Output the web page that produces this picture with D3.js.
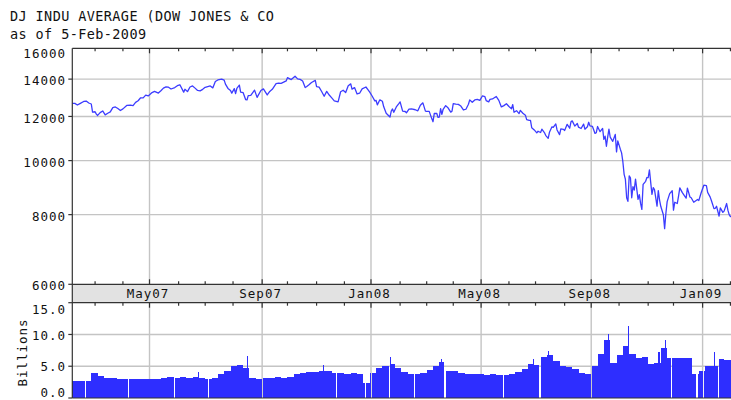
<!DOCTYPE html>
<html>
<head>
<meta charset="utf-8" />
<title>DJ Indu Average</title>
<style>
  body { margin: 0; background: #fff; }
  #chart { width: 731px; height: 400px; overflow: hidden; }
  text { font-family: "DejaVu Sans Mono", monospace; fill: #111; }
</style>
</head>
<body>
<div id="chart"></div>
<script src="https://cdnjs.cloudflare.com/ajax/libs/d3/7.8.5/d3.min.js"></script>
<script>
var title = "DJ INDU AVERAGE (DOW JONES & CO";
var subtitle = "as of 5-Feb-2009";
var startDate = "2007-02-05";
var endDate = "2009-02-05";

// daily closes (not every day)
var closes = [
  ["2007-02-05",12661],["2007-02-07",12666],["2007-02-09",12580],["2007-02-13",12654],["2007-02-16",12767],
  ["2007-02-20",12786],["2007-02-22",12686],["2007-02-26",12633],["2007-02-27",12216],["2007-03-01",12235],
  ["2007-03-02",12114],["2007-03-05",12050],["2007-03-07",12193],["2007-03-09",12276],["2007-03-13",12076],
  ["2007-03-15",12159],["2007-03-19",12226],["2007-03-21",12447],["2007-03-23",12481],["2007-03-27",12397],
  ["2007-03-29",12300],["2007-04-02",12382],["2007-04-05",12560],["2007-04-10",12573],["2007-04-12",12553],
  ["2007-04-16",12720],["2007-04-18",12803],["2007-04-20",12961],["2007-04-24",12953],["2007-04-26",13105],
  ["2007-04-30",13063],["2007-05-03",13241],["2007-05-07",13312],["2007-05-10",13215],["2007-05-14",13346],
  ["2007-05-16",13488],["2007-05-18",13556],["2007-05-22",13539],["2007-05-24",13441],["2007-05-29",13521],
  ["2007-05-31",13627],["2007-06-04",13676],["2007-06-07",13266],["2007-06-08",13424],["2007-06-12",13295],
  ["2007-06-14",13553],["2007-06-18",13612],["2007-06-20",13489],["2007-06-22",13360],["2007-06-26",13337],
  ["2007-06-28",13422],["2007-07-02",13535],["2007-07-06",13611],["2007-07-10",13502],["2007-07-12",13861],
  ["2007-07-16",13950],["2007-07-19",14000],["2007-07-23",13943],["2007-07-24",13716],["2007-07-26",13473],
  ["2007-07-30",13358],["2007-07-31",13212],["2007-08-02",13463],["2007-08-03",13182],["2007-08-06",13469],
  ["2007-08-08",13658],["2007-08-09",13270],["2007-08-13",13236],["2007-08-15",12861],["2007-08-16",12846],
  ["2007-08-17",13079],["2007-08-21",13091],["2007-08-24",13379],["2007-08-28",12983],["2007-08-31",13358],
  ["2007-09-04",13448],["2007-09-07",13114],["2007-09-11",13308],["2007-09-13",13424],["2007-09-18",13739],
  ["2007-09-20",13767],["2007-09-24",13759],["2007-09-28",13896],["2007-10-01",14087],["2007-10-04",13974],
  ["2007-10-09",14165],["2007-10-11",14015],["2007-10-15",13985],["2007-10-17",13892],["2007-10-19",13522],
  ["2007-10-22",13567],["2007-10-24",13676],["2007-10-26",13806],["2007-10-31",13930],["2007-11-01",13567],
  ["2007-11-05",13543],["2007-11-07",13300],["2007-11-09",13043],["2007-11-13",13307],["2007-11-15",13111],
  ["2007-11-19",12958],["2007-11-21",12800],["2007-11-26",12743],["2007-11-28",13289],["2007-11-30",13372],
  ["2007-12-04",13249],["2007-12-06",13620],["2007-12-10",13727],["2007-12-11",13433],["2007-12-13",13518],
  ["2007-12-17",13167],["2007-12-19",13207],["2007-12-21",13451],["2007-12-26",13551],["2007-12-28",13366],
  ["2007-12-31",13265],
  ["2008-01-02",13044],["2008-01-04",12800],["2008-01-07",12827],["2008-01-08",12589],["2008-01-10",12853],
  ["2008-01-14",12778],["2008-01-15",12501],["2008-01-17",12159],["2008-01-18",12099],["2008-01-22",11971],
  ["2008-01-23",12270],["2008-01-24",12378],["2008-01-25",12207],["2008-01-29",12480],["2008-01-31",12650],
  ["2008-02-01",12743],["2008-02-05",12265],["2008-02-07",12247],["2008-02-08",12182],["2008-02-12",12373],
  ["2008-02-14",12376],["2008-02-19",12337],["2008-02-21",12284],["2008-02-25",12570],["2008-02-27",12694],
  ["2008-02-29",12266],["2008-03-03",12258],["2008-03-05",12254],["2008-03-07",11894],["2008-03-10",11740],
  ["2008-03-11",12157],["2008-03-13",12146],["2008-03-14",11951],["2008-03-17",11972],["2008-03-18",12392],
  ["2008-03-19",12099],["2008-03-20",12361],["2008-03-24",12548],["2008-03-26",12422],["2008-03-28",12216],
  ["2008-03-31",12263],["2008-04-01",12654],["2008-04-03",12626],["2008-04-07",12612],["2008-04-09",12527],
  ["2008-04-11",12325],["2008-04-15",12362],["2008-04-17",12620],["2008-04-18",12849],["2008-04-22",12720],
  ["2008-04-24",12848],["2008-04-28",12871],["2008-04-30",12820],["2008-05-02",13058],["2008-05-06",13020],
  ["2008-05-07",12814],["2008-05-09",12745],["2008-05-12",12876],["2008-05-14",12898],["2008-05-16",12986],
  ["2008-05-19",13028],["2008-05-21",12824],["2008-05-23",12480],["2008-05-27",12548],["2008-05-29",12647],
  ["2008-06-02",12503],["2008-06-04",12390],["2008-06-05",12604],["2008-06-06",12209],["2008-06-10",12289],
  ["2008-06-12",12141],["2008-06-13",12308],["2008-06-17",12160],["2008-06-19",12063],["2008-06-20",11843],
  ["2008-06-24",11807],["2008-06-25",11811],["2008-06-26",11453],["2008-06-30",11350],["2008-07-02",11215],
  ["2008-07-03",11288],["2008-07-07",11231],["2008-07-08",11384],["2008-07-10",11229],["2008-07-11",11100],
  ["2008-07-15",10963],["2008-07-16",11239],["2008-07-18",11496],["2008-07-21",11467],["2008-07-23",11632],
  ["2008-07-24",11349],["2008-07-28",11131],["2008-07-29",11397],["2008-07-31",11378],["2008-08-01",11326],
  ["2008-08-05",11616],["2008-08-07",11431],["2008-08-08",11734],["2008-08-11",11783],["2008-08-13",11532],
  ["2008-08-15",11659],["2008-08-18",11479],["2008-08-20",11417],["2008-08-22",11628],["2008-08-25",11386],
  ["2008-08-27",11502],["2008-08-28",11715],["2008-08-29",11543],["2008-09-02",11516],["2008-09-04",11188],
  ["2008-09-05",11220],["2008-09-08",11511],["2008-09-10",11268],["2008-09-12",11421],["2008-09-15",10917],
  ["2008-09-16",11059],["2008-09-17",10609],["2008-09-18",11020],["2008-09-19",11388],["2008-09-22",11016],
  ["2008-09-24",10825],["2008-09-26",11143],["2008-09-29",10365],["2008-09-30",10851],["2008-10-02",10483],
  ["2008-10-03",10325],["2008-10-06",9955],["2008-10-07",9447],["2008-10-08",9258],["2008-10-09",8579],
  ["2008-10-10",8451],["2008-10-13",9387],["2008-10-14",9310],["2008-10-15",8578],["2008-10-16",8979],
  ["2008-10-17",8852],["2008-10-20",9265],["2008-10-22",8519],["2008-10-23",8691],["2008-10-24",8378],
  ["2008-10-27",8175],["2008-10-28",9065],["2008-10-30",9180],["2008-10-31",9325],["2008-11-03",9319],
  ["2008-11-04",9625],["2008-11-05",9139],["2008-11-06",8695],["2008-11-07",8943],["2008-11-10",8870],
  ["2008-11-12",8283],["2008-11-13",8835],["2008-11-14",8497],["2008-11-17",8273],["2008-11-19",7997],
  ["2008-11-20",7552],["2008-11-21",8046],["2008-11-24",8443],["2008-11-26",8726],["2008-11-28",8829],
  ["2008-12-01",8149],["2008-12-02",8419],["2008-12-04",8376],["2008-12-05",8635],["2008-12-08",8934],
  ["2008-12-10",8761],["2008-12-12",8629],["2008-12-15",8565],["2008-12-16",8924],["2008-12-18",8604],
  ["2008-12-19",8579],["2008-12-23",8419],["2008-12-26",8515],["2008-12-29",8483],["2008-12-31",8776],
  ["2009-01-02",9034],["2009-01-06",9015],["2009-01-07",8770],["2009-01-09",8600],["2009-01-12",8474],
  ["2009-01-14",8200],["2009-01-15",8213],["2009-01-16",8281],["2009-01-20",7949],["2009-01-21",8228],
  ["2009-01-23",8077],["2009-01-26",8117],["2009-01-28",8375],["2009-01-29",8149],["2009-01-30",8001],
  ["2009-02-02",7936],["2009-02-04",7957],["2009-02-05",8063]
];

// volume in billions, one value per week starting Mon 2007-02-05
var weeklyVolume = [
  2.6, 2.6, 2.6, 4.0, 3.4, 3.2, 3.1, 3.0, 3.0, 3.0,
  3.0, 3.0, 3.0, 3.0, 3.1, 3.3, 3.2, 3.3, 3.2, 3.3,
  3.2, 3.0, 3.1, 3.8, 4.3, 5.0, 5.2, 4.8, 3.2, 3.0,
  3.1, 3.2, 3.3, 3.1, 3.3, 3.8, 4.0, 4.1, 4.1, 4.3,
  4.3, 4.0, 4.0, 3.8, 3.9, 3.8, 2.4, 3.9, 4.8, 5.1,
  5.4, 4.7, 4.1, 3.8, 3.7, 3.9, 4.4, 5.0, 5.6, 4.2,
  4.2, 3.9, 3.8, 3.7, 3.7, 3.6, 3.7, 3.6, 3.6, 3.8,
  4.1, 4.5, 5.3, 5.2, 6.4, 6.8, 5.9, 5.1, 4.9, 4.6,
  3.9, 3.7, 5.0, 7.0, 9.2, 5.5, 6.8, 8.2, 7.0, 6.3,
  6.5, 5.3, 5.5, 7.8, 6.3, 6.3, 6.3, 6.3, 3.8, 4.2,
  5.0, 5.0, 6.1, 6.0, 6.0
];
// single days that stand out from their week
var volumeSpikes = [
  ["2007-06-22",4.1],["2007-08-16",6.6],["2007-11-08",5.2],["2008-01-22",6.5],["2008-03-18",6.2],
  ["2008-06-27",6.2],["2008-07-15",7.4],["2008-09-18",10.0],["2008-10-10",11.3],["2008-11-13",7.3],
  ["2008-11-20",9.2],["2009-01-14",7.3]
];
// market holidays: empty slots on the weekday axis
var holidays = [
  "2007-02-19","2007-04-06","2007-05-28","2007-07-04","2007-09-03","2007-11-22","2007-12-25",
  "2008-01-01","2008-01-21","2008-02-18","2008-03-21","2008-05-26","2008-07-04","2008-09-01",
  "2008-11-27","2008-12-25","2009-01-01","2009-01-19"
];
var priceTicks = [6000, 8000, 10000, 12000, 14000, 16000];
var volumeTicks = [0, 5, 10, 15];

var parse = d3.timeParse("%Y-%m-%d");
var fmt = d3.timeFormat("%Y-%m-%d");
var t0 = parse(startDate), t1 = d3.timeDay.offset(parse(endDate), 1);

function isWeekday(d) { var w = d.getDay(); return w !== 0 && w !== 6; }
// position on a weekday axis (holidays keep their slot)
function slot(date) {
  return d3.timeDay.range(t0, date).filter(isWeekday).length;
}
var nSlots = slot(t1);

var W = 731, H = 400;
var left = 72.3, right = 735.5;
var pTop = 48.3, pBottom = 284.3;
var bandBottom = 302.7, vBottom = 398;

var svg = d3.select("#chart").append("svg")
  .attr("width", W).attr("height", H);

var x = d3.scaleLinear().domain([0, nSlots]).range([left, right]);
var y = d3.scaleLog().domain([6000, 15900]).range([pBottom, pTop]);
var yv = d3.scaleLinear().domain([0, 15]).range([vBottom, bandBottom]);

var months = d3.timeMonth.range(d3.timeMonth.ceil(d3.timeDay.offset(t0, 1)), t1);
var majors = months.filter(function (m) { return m.getMonth() % 4 === 0; });
var monthLabel = d3.timeFormat("%b%y");

// title
svg.append("text").attr("x", 10).attr("y", 21).style("font-size", "13.5px")
  .style("letter-spacing", "0.4px").text(title);
svg.append("text").attr("x", 10).attr("y", 38.5).style("font-size", "13.5px")
  .style("letter-spacing", "0.4px").text(subtitle);

// date band
svg.append("rect").attr("x", left).attr("y", pBottom)
  .attr("width", right - left).attr("height", bandBottom - pBottom).attr("fill", "#e2e2e2");

// grid
var grid = svg.append("g").attr("stroke", "#c4c4c4").attr("stroke-width", 1.4);
grid.selectAll(".hp").data(priceTicks.filter(function (v) { return v > 6000 && v < 15900; }))
  .enter().append("line")
  .attr("x1", left).attr("x2", right)
  .attr("y1", function (v) { return y(v); }).attr("y2", function (v) { return y(v); });
grid.selectAll(".hv").data(volumeTicks.filter(function (v) { return v > 0 && v < 15; }))
  .enter().append("line")
  .attr("x1", left).attr("x2", right)
  .attr("y1", function (v) { return yv(v); }).attr("y2", function (v) { return yv(v); });
majors.forEach(function (m) {
  var gx = x(slot(m));
  grid.append("line").attr("x1", gx).attr("x2", gx).attr("y1", pTop).attr("y2", pBottom);
  grid.append("line").attr("x1", gx).attr("x2", gx).attr("y1", bandBottom).attr("y2", vBottom);
});

// volume bars, one per trading day
var spikeMap = {};
volumeSpikes.forEach(function (s) { spikeMap[s[0]] = s[1]; });
var holidaySet = new Set(holidays);
var days = d3.timeDay.range(t0, t1).filter(isWeekday).map(function (d, i) {
  var key = fmt(d);
  return { i: i, key: key, v: spikeMap[key] != null ? spikeMap[key] : weeklyVolume[Math.floor(i / 5)] };
}).filter(function (d) { return !holidaySet.has(d.key); });

svg.append("g").attr("fill", "#2e2eff").attr("shape-rendering", "crispEdges")
  .selectAll("rect").data(days).enter().append("rect")
  .attr("x", function (d) { return Math.round(x(d.i)); })
  .attr("width", function (d) { return Math.round(x(d.i + 1)) - Math.round(x(d.i)); })
  .attr("y", function (d) { return yv(d.v); })
  .attr("height", function (d) { return yv(0) - yv(d.v); });

// price line
svg.append("clipPath").attr("id", "pclip").append("rect")
  .attr("x", left).attr("y", pTop).attr("width", right - left).attr("height", pBottom - pTop);
var line = d3.line()
  .x(function (d) { return x(slot(parse(d[0]))); })
  .y(function (d) { return y(d[1]); });
svg.append("path").datum(closes)
  .attr("clip-path", "url(#pclip)")
  .attr("fill", "none").attr("stroke", "#3c3cff").attr("stroke-width", 1.3)
  .attr("stroke-linejoin", "round")
  .attr("d", line);

// frame
var frame = svg.append("g").attr("stroke", "#333").attr("stroke-width", 1.2);
frame.append("line").attr("x1", left).attr("x2", left).attr("y1", pTop).attr("y2", vBottom);
[pTop, pBottom, bandBottom, vBottom].forEach(function (yy) {
  frame.append("line").attr("x1", left).attr("x2", right).attr("y1", yy).attr("y2", yy);
});

// month ticks
var ticks = svg.append("g").attr("stroke", "#333").attr("stroke-width", 1.2);
months.forEach(function (m) {
  var tx = x(slot(m));
  var len = m.getMonth() % 4 === 0 ? 5 : 3;
  ticks.append("line").attr("x1", tx).attr("x2", tx).attr("y1", pTop).attr("y2", pTop + len);
  ticks.append("line").attr("x1", tx).attr("x2", tx).attr("y1", pBottom).attr("y2", pBottom - len);
  ticks.append("line").attr("x1", tx).attr("x2", tx).attr("y1", bandBottom).attr("y2", bandBottom + len);
});
majors.forEach(function (m) {
  svg.append("text").attr("x", x(slot(m)) - 1.5).attr("y", 298)
    .attr("text-anchor", "middle").style("font-size", "12.5px").style("letter-spacing", "1px")
    .text(monthLabel(m));
});

// price axis
priceTicks.forEach(function (v) {
  var ty = y(v);
  if (v <= 15900) ticks.append("line").attr("x1", left - 4).attr("x2", left).attr("y1", ty).attr("y2", ty);
  svg.append("text").attr("x", 66).attr("y", Math.max(ty, pTop + 4) + 1.7)
    .attr("text-anchor", "end").attr("dy", "0.35em")
    .style("font-size", "12.5px").style("letter-spacing", "1px")
    .text(v);
});

// volume axis
var vfmt = d3.format(".1f");
volumeTicks.forEach(function (v) {
  var ty = yv(v);
  ticks.append("line").attr("x1", left - 4).attr("x2", left).attr("y1", ty).attr("y2", ty);
  var ly = Math.min(Math.max(ty + 0.8, bandBottom + 7), vBottom - 5);
  svg.append("text").attr("x", 66).attr("y", ly)
    .attr("text-anchor", "end").attr("dy", "0.35em")
    .style("font-size", "12.5px").style("letter-spacing", "1px")
    .text(vfmt(v));
});
svg.append("text")
  .attr("transform", "translate(22.5,352.5) rotate(-90)")
  .attr("text-anchor", "middle").attr("dy", "0.35em")
  .style("font-size", "12.5px").style("letter-spacing", "1px")
  .text("Billions");
</script>
</body>
</html>
